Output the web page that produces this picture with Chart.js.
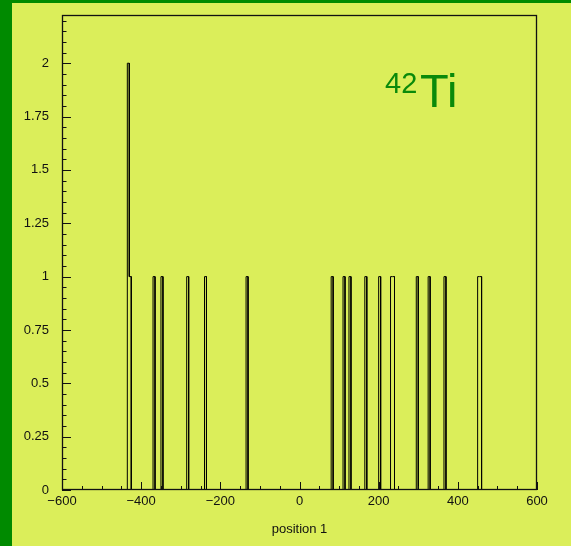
<!DOCTYPE html>
<html>
<head>
<meta charset="utf-8">
<script src="https://cdn.jsdelivr.net/npm/chart.js@4"></script>
<style>
  html, body { margin: 0; padding: 0; background: #dbee5a; }
  #wrap { width: 571px; height: 546px; }
</style>
</head>
<body>
<div id="wrap"><canvas id="hist" width="571" height="546"></canvas></div>
<script>
// histogram of "position 1", bins of 5 units, only the filled bins listed
const binWidth = 5;
const binStarts = [-435, -430, -370, -350, -285, -240, -135, 80, 110, 125, 165, 200, 230, 235, 295, 325, 365, 450, 455];
const binCounts = [2, 1, 1, 1, 1, 1, 1, 1, 1, 1, 1, 1, 1, 1, 1, 1, 1, 1, 1];

const xMin = -600, xMax = 600;
const yMin = 0, yMax = 2.226;
const xMajorStep = 200, xMinorStep = 50;
const yMajorStep = 0.25, yMinorStep = 0.05;

const nucleusMass = '42';
const nucleusName = 'Ti';

// outline of the histogram as ROOT draws it
function buildOutline() {
    const pts = [{ x: xMin, y: 0 }];
    let prevHi = xMin;
    binStarts.forEach((lo, i) => {
        const hi = lo + binWidth;
        if (lo !== prevHi) {
            pts.push({ x: prevHi, y: 0 });
            pts.push({ x: lo, y: 0 });
        }
        pts.push({ x: lo, y: binCounts[i] });
        pts.push({ x: hi, y: binCounts[i] });
        prevHi = hi;
    });
    pts.push({ x: prevHi, y: 0 });
    pts.push({ x: xMax, y: 0 });
    return pts;
}

const rootPad = {
    id: 'rootPad',
    beforeDraw(chart) {
        const ctx = chart.ctx;
        ctx.save();
        ctx.fillStyle = '#dbee5a';
        ctx.fillRect(0, 0, chart.width, chart.height);
        ctx.fillStyle = '#008a00';
        ctx.fillRect(0, 0, 12, chart.height);
        ctx.fillRect(0, 0, chart.width, 3);
        ctx.restore();
    },
    afterDatasetsDraw(chart) {
        const ctx = chart.ctx;
        const { left, right, top, bottom } = chart.chartArea;
        const xs = chart.scales.x, ys = chart.scales.y;
        ctx.save();
        ctx.strokeStyle = '#111';
        ctx.lineWidth = 1;
        ctx.beginPath();
        // inward ticks on the x axis
        for (let v = xMin; v <= xMax + 1e-9; v += xMinorStep) {
            const px = Math.round(xs.getPixelForValue(v)) + 0.5;
            const major = Math.abs(v / xMajorStep - Math.round(v / xMajorStep)) < 1e-6;
            ctx.moveTo(px, bottom);
            ctx.lineTo(px, bottom - (major ? 8 : 4));
        }
        // inward ticks on the y axis
        for (let v = yMin; v <= yMax + 1e-9; v += yMinorStep) {
            const py = Math.round(ys.getPixelForValue(v)) + 0.5;
            const major = Math.abs(v / yMajorStep - Math.round(v / yMajorStep)) < 1e-6;
            ctx.moveTo(left, py);
            ctx.lineTo(left + (major ? 9 : 4.5), py);
        }
        ctx.stroke();
        // frame
        ctx.lineWidth = 1.3;
        ctx.strokeRect(Math.round(left) + 0.5, Math.round(top) + 0.5,
                       Math.round(right - left) - 1, Math.round(bottom - top) - 1);
        ctx.restore();
    },
    afterDraw(chart) {
        const ctx = chart.ctx;
        ctx.save();
        ctx.fillStyle = '#0a8a0a';
        ctx.textBaseline = 'alphabetic';
        ctx.font = '29px "Liberation Sans", Arial, sans-serif';
        ctx.fillText(nucleusMass, 385, 93);
        ctx.font = '47px "Liberation Sans", Arial, sans-serif';
        ctx.fillText(nucleusName, 420, 107);
        ctx.restore();
    }
};

const labelFont = { family: '"Liberation Sans", Arial, sans-serif', size: 13 };

new Chart('hist', {
    type: 'line',
    data: {
        datasets: [{
            data: buildOutline(),
            borderColor: '#000',
            borderWidth: 1,
            pointRadius: 0,
            tension: 0,
            fill: false
        }]
    },
    options: {
        responsive: false,
        animation: false,
        layout: { padding: { left: 0, top: 15, right: 34, bottom: 0 } },
        plugins: { legend: { display: false }, tooltip: { enabled: false } },
        scales: {
            x: {
                type: 'linear',
                min: xMin,
                max: xMax,
                grid: { display: false, drawTicks: false },
                border: { display: false },
                ticks: {
                    stepSize: xMajorStep,
                    autoSkip: false,
                    maxRotation: 0,
                    padding: 4,
                    color: '#111',
                    font: labelFont,
                    callback: v => v < 0 ? '\u2212' + Math.abs(v) : String(v)
                },
                title: {
                    display: true,
                    text: 'position 1',
                    color: '#111',
                    font: labelFont,
                    padding: { top: 0, bottom: 9 }
                },
                afterFit: s => { s.height = 56; }
            },
            y: {
                min: yMin,
                max: yMax,
                grid: { display: false, drawTicks: false },
                border: { display: false },
                ticks: {
                    stepSize: yMajorStep,
                    includeBounds: false,
                    autoSkip: false,
                    padding: 13,
                    color: '#111',
                    font: labelFont,
                    callback: v => String(+v.toFixed(2))
                },
                afterFit: s => {
                    s.width = 62;
                    s.paddingTop = 0;
                    s.paddingBottom = 0;
                }
            }
        }
    },
    plugins: [rootPad]
});
</script>
</body>
</html>
